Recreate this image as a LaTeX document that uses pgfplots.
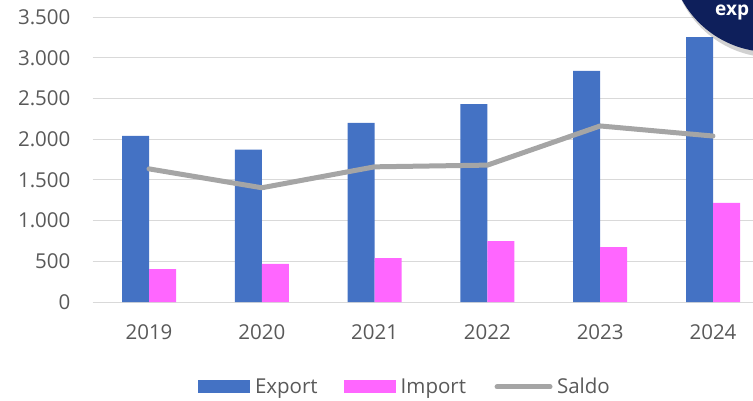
\documentclass[border=0pt]{standalone}
\usepackage{fontspec}
\setmainfont{Open Sans}
\usepackage{pgfplots}
\pgfplotsset{compat=1.18}
\definecolor{cExp}{HTML}{4472C4}
\definecolor{cImp}{HTML}{FF66FF}
\definecolor{cSal}{HTML}{A5A5A5}
\definecolor{cText}{HTML}{595959}
\definecolor{cGrid}{HTML}{D9D9D9}
\definecolor{cNavy}{HTML}{0E1F5B}
\begin{document}
\begin{tikzpicture}[x=1pt,y=1pt]
\useasboundingbox (0,0) rectangle (753,400);
\clip (0,0) rectangle (753,400);
\begin{axis}[
  at={(92.6pt,98pt)}, anchor=south west,
  scale only axis, width=676.8pt, height=285pt,
  xmin=-0.5, xmax=5.5, ymin=0, ymax=3500,
  axis line style={draw=none}, tick style={draw=none},
  ymajorgrids, grid style={color=cGrid, line width=1pt},
  xtick={0,1,2,3,4,5}, xticklabels={2019,2020,2021,2022,2023,2024},
  ytick={0,500,1000,1500,2000,2500,3000,3500},
  /pgf/number format/.cd, 1000 sep={.}, assume math mode=true, /pgfplots/.cd,
  ticklabel style={font=\fontsize{20.5}{24}\selectfont, text=cText, inner sep=0pt},
  yticklabel style={anchor=east, xshift=-22pt},
  xticklabel style={anchor=north, yshift=-22pt},
  clip=false,
  legend style={at={(0.46,-0.298)}, anchor=center, draw=none, fill=none,
    legend columns=3, font=\fontsize{20.5}{24}\selectfont, text=cText,
    /tikz/every even column/.append style={column sep=26pt},
    nodes={inner sep=0pt}},
]
\addplot[ybar, bar width=27pt, bar shift=-13.5pt, fill=cExp, draw=none,
  legend image code/.code={\fill[cExp] (0pt,-6.5pt) rectangle (52pt,6.5pt); \path (57pt,0pt);}]
  coordinates {(0,2040) (1,1870) (2,2200) (3,2430) (4,2837) (5,3254)};
\addlegendentry{Export}
\addplot[ybar, bar width=27pt, bar shift=13.5pt, fill=cImp, draw=none,
  legend image code/.code={\fill[cImp] (0pt,-6.5pt) rectangle (52pt,6.5pt); \path (57pt,0pt);}]
  coordinates {(0,405) (1,467) (2,540) (3,749) (4,675) (5,1216)};
\addlegendentry{Import}
\addplot[color=cSal, line width=5pt, line cap=round, line join=round, mark=none,
  legend image code/.code={\draw[cSal, line width=5pt, line cap=round] (2.5pt,0pt) -- (55.5pt,0pt); \path (0pt,0pt) (60pt,0pt);}]
  coordinates {(0,1635) (1,1403) (2,1660) (3,1681) (4,2162) (5,2038)};
\addlegendentry{Saldo}
\end{axis}
\fill[black, opacity=0.18] (773,444) circle (101.5);
\fill[cNavy] (770,448.5) circle (100.5);
\node[anchor=west, text=white, font=\bfseries\fontsize{19}{22}\selectfont, inner sep=0pt] at (715,388) {exp};
\end{tikzpicture}
\end{document}
